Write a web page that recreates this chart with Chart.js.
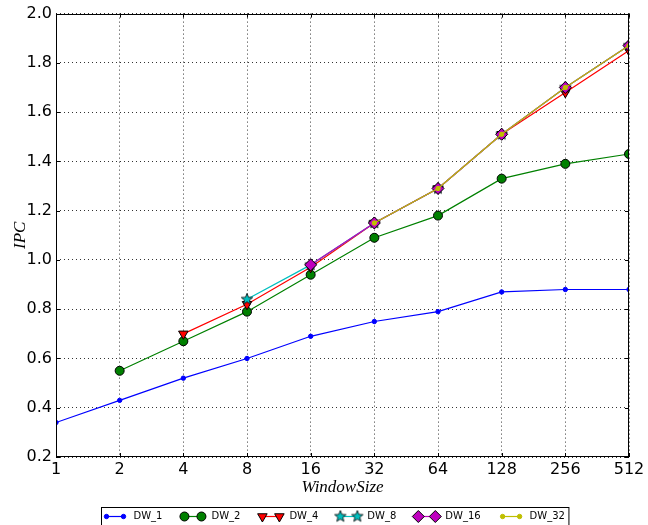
<!DOCTYPE html>
<html lang="en">
<head>
    <meta charset="UTF-8">
    <title>IPC vs WindowSize</title>
    <script src="https://cdn.jsdelivr.net/npm/chart.js"></script>
    <style>
        body { margin: 0; background: white; }
        canvas { display: block; }
    </style>
</head>
<body>
    <canvas id="ipcChart" width="648" height="525"></canvas>
    <script>
        const windowSizes = ['1', '2', '4', '8', '16', '32', '64', '128', '256', '512'];
        const yTicks = [0.2, 0.4, 0.6, 0.8, 1.0, 1.2, 1.4, 1.6, 1.8, 2.0];
        const seriesNames = ['DW_1', 'DW_2', 'DW_4', 'DW_8', 'DW_16', 'DW_32'];

        const dw1  = [0.34, 0.43, 0.52, 0.60, 0.69, 0.75, 0.79, 0.87, 0.88, 0.88];
        const dw2  = [null, 0.55, 0.67, 0.79, 0.94, 1.09, 1.18, 1.33, 1.39, 1.43];
        const dw4  = [null, null, 0.70, 0.82, 0.97, 1.15, 1.29, 1.51, 1.68, 1.85];
        const dw8  = [null, null, null, 0.84, 0.98, 1.15, 1.29, 1.51, 1.70, 1.87];
        const dw16 = [null, null, null, null, 0.98, 1.15, 1.29, 1.51, 1.70, 1.87];
        const dw32 = [null, null, null, null, null, 1.15, 1.29, 1.51, 1.70, 1.87];

        // five pointed star marker, like matplotlib '*'
        function makeStar(color) {
            const c = document.createElement('canvas');
            c.width = 14; c.height = 14;
            const g = c.getContext('2d');
            g.beginPath();
            for (let i = 0; i < 10; i++) {
                const r = i % 2 === 0 ? 6 : 2.6;
                const a = -Math.PI / 2 + i * Math.PI / 5;
                const px = 7 + r * Math.cos(a), py = 7 + r * Math.sin(a);
                if (i === 0) g.moveTo(px, py); else g.lineTo(px, py);
            }
            g.closePath();
            g.fillStyle = color;
            g.fill();
            g.lineWidth = 0.8;
            g.strokeStyle = '#000';
            g.stroke();
            return c;
        }

        const styles = [
            { color: '#0000ff', fill: '#0000ff', edge: '#0000ff', point: 'circle', radius: 2.2, rot: 0 },
            { color: '#008000', fill: '#008000', edge: '#000000', point: 'circle', radius: 4.5, rot: 0 },
            { color: '#ff0000', fill: '#ff0000', edge: '#000000', point: 'triangle', radius: 5.5, rot: 180 },
            { color: '#00bfbf', fill: '#00bfbf', edge: '#000000', point: makeStar('#00bfbf'), radius: 6, rot: 0 },
            { color: '#bf00bf', fill: '#bf00bf', edge: '#000000', point: 'rectRot', radius: 6, rot: 0 },
            { color: '#bfbf00', fill: '#bfbf00', edge: '#bfbf00', point: 'circle', radius: 2.2, rot: 0 }
        ];
        const allData = [dw1, dw2, dw4, dw8, dw16, dw32];

        const datasets = seriesNames.map((name, i) => ({
            label: name,
            data: allData[i],
            borderColor: styles[i].color,
            backgroundColor: styles[i].fill,
            borderWidth: 1.2,
            pointStyle: styles[i].point,
            pointRadius: styles[i].radius,
            pointRotation: styles[i].rot,
            pointBackgroundColor: styles[i].fill,
            pointBorderColor: styles[i].edge,
            pointBorderWidth: 1,
            tension: 0,
            fill: false,
            clip: 0,
            order: seriesNames.length - 1 - i
        }));

        const frame = {
            id: 'frame',
            afterDatasetsDraw(chart) {
                const { ctx, chartArea: a, scales } = chart;
                ctx.save();
                ctx.strokeStyle = '#000';
                ctx.lineWidth = 1;
                ctx.strokeRect(Math.round(a.left) + 0.5, Math.round(a.top) + 0.5,
                    Math.round(a.right - a.left) - 1, Math.round(a.bottom - a.top) - 1);
                ctx.beginPath();
                scales.x.ticks.forEach((t, i) => {
                    const x = Math.round(scales.x.getPixelForTick(i)) + 0.5;
                    ctx.moveTo(x, a.bottom); ctx.lineTo(x, a.bottom - 4);
                    ctx.moveTo(x, a.top); ctx.lineTo(x, a.top + 4);
                });
                scales.y.ticks.forEach((t, i) => {
                    const y = Math.round(scales.y.getPixelForTick(i)) + 0.5;
                    ctx.moveTo(a.left, y); ctx.lineTo(a.left + 4, y);
                    ctx.moveTo(a.right, y); ctx.lineTo(a.right - 4, y);
                });
                ctx.stroke();
                ctx.restore();
            }
        };

        // matplotlib style legend: line with two markers, in a box below the axes
        const legendBox = {
            id: 'legendBox',
            afterDraw(chart) {
                const ctx = chart.ctx;
                const a = chart.chartArea;
                const handle = 17, gapText = 10, gapItem = 22, padL = 5, padR = 4;
                ctx.save();
                ctx.font = '10px "DejaVu Sans"';
                let total = padL + padR;
                seriesNames.forEach((n, i) => {
                    total += handle + gapText + ctx.measureText(n).width + (i < seriesNames.length - 1 ? gapItem : 0);
                });
                const left = Math.round((a.left + a.right) / 2 - 8 - total / 2) + 0.5;
                const top = 507.5;
                ctx.fillStyle = '#fff';
                ctx.fillRect(left, top, total, 21);
                ctx.strokeStyle = '#000';
                ctx.lineWidth = 1;
                ctx.strokeRect(left, top, total, 21);
                const cy = top + 9;
                let x = left + padL;
                seriesNames.forEach((n, i) => {
                    const s = styles[i];
                    ctx.strokeStyle = s.color;
                    ctx.lineWidth = 1.2;
                    ctx.beginPath();
                    ctx.moveTo(x, cy); ctx.lineTo(x + handle, cy);
                    ctx.stroke();
                    if (Chart.helpers && Chart.helpers.drawPoint) {
                        [x, x + handle].forEach(px => {
                            ctx.fillStyle = s.fill;
                            ctx.strokeStyle = s.edge;
                            ctx.lineWidth = 1;
                            Chart.helpers.drawPoint(ctx, { pointStyle: s.point, radius: s.radius, rotation: s.rot, borderWidth: 1 }, px, cy);
                        });
                    }
                    x += handle + gapText;
                    ctx.fillStyle = '#000';
                    ctx.textBaseline = 'middle';
                    ctx.textAlign = 'left';
                    ctx.fillText(n, x, cy);
                    x += ctx.measureText(n).width + gapItem;
                });
                ctx.restore();
            }
        };

        const tickFont = { family: 'DejaVu Sans', size: 16 };
        const titleFont = { family: 'Liberation Serif', size: 17, style: 'italic' };
        const gridOpts = { color: 'rgba(0,0,0,0.8)', lineWidth: 1, drawTicks: false };

        new Chart(document.getElementById('ipcChart').getContext('2d'), {
            type: 'line',
            data: { labels: windowSizes, datasets: datasets },
            options: {
                responsive: false,
                animation: false,
                layout: { padding: { top: 13, right: 19, left: 0, bottom: 0 } },
                plugins: { legend: { display: false }, tooltip: { enabled: false } },
                scales: {
                    x: {
                        offset: false,
                        grid: gridOpts,
                        border: { display: false, dash: [1, 3] },
                        ticks: { color: '#000', font: tickFont, padding: 3, maxRotation: 0, autoSkip: false },
                        title: { display: true, text: 'WindowSize', color: '#000', font: titleFont, padding: { top: 0, bottom: 27 } },
                        afterFit: s => { s.height = 68; }
                    },
                    y: {
                        min: yTicks[0],
                        max: yTicks[yTicks.length - 1],
                        grid: gridOpts,
                        border: { display: false, dash: [1, 3] },
                        afterBuildTicks: s => { s.ticks = yTicks.map(v => ({ value: v })); },
                        ticks: { color: '#000', font: tickFont, padding: 4, callback: v => v.toFixed(1) },
                        title: { display: true, text: 'IPC', color: '#000', font: titleFont, padding: { top: 10, bottom: 0 } },
                        afterFit: s => { s.width = 56; }
                    }
                }
            },
            plugins: [frame, legendBox]
        });
    </script>
</body>
</html>
